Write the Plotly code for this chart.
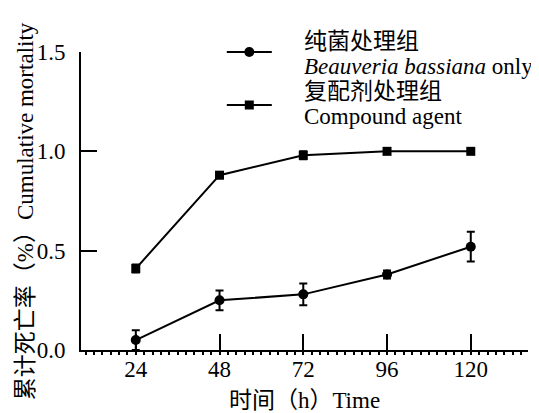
import plotly.graph_objects as go

hours = [24, 48, 72, 96, 120]
bb_only = [0.05, 0.25, 0.28, 0.38, 0.52]
bb_err = [0.05, 0.05, 0.055, 0.02, 0.075]
compound = [0.41, 0.88, 0.98, 1.00, 1.00]
compound_err = [0.02, 0.015, 0.02, 0.0, 0.0]

legend_lines = ["纯菌处理组", "<i>Beauveria bassiana</i> only", "复配剂处理组", "Compound agent"]

FONT = "Liberation Serif, Times New Roman, Noto Sans CJK SC, serif"
CJK = lambda s: '<span style="font-size:23px">' + s + '</span>'

fig = go.Figure()
fig.add_trace(go.Scatter(
    x=hours, y=bb_only, mode="lines+markers", name=" ", legend="legend",
    line=dict(color="black", width=2),
    marker=dict(symbol="circle", size=10, color="black"),
    error_y=dict(type="data", array=bb_err, color="black", thickness=2, width=4),
))
fig.add_trace(go.Scatter(
    x=hours, y=compound, mode="lines+markers", name=" ", legend="legend2",
    line=dict(color="black", width=2),
    marker=dict(symbol="square", size=9, color="black"),
    error_y=dict(type="data", array=compound_err, color="black", thickness=2, width=4),
))

leg_common = dict(xanchor="left", yanchor="middle", bgcolor="rgba(0,0,0,0)",
                  borderwidth=0, itemwidth=45, font=dict(family=FONT, size=10))

text_y = [1.0336, 0.9497, 0.8658, 0.7819]
annotations = []
for i, t in enumerate(legend_lines):
    annotations.append(dict(
        text=CJK(t) if i % 2 == 0 else t, xref="paper", yref="paper",
        x=0.494, y=text_y[i], xanchor="left", yanchor="middle", showarrow=False,
        font=dict(family=FONT, size=23),
    ))
annotations.append(dict(
    text=CJK("累计死亡率（%）") + "Cumulative mortality", textangle=-90,
    xref="paper", yref="paper", x=-0.125, y=0.466,
    xanchor="center", yanchor="middle", showarrow=False,
    font=dict(family=FONT, size=23),
))

# the page body adds an 8px offset, so the figure is 8px smaller than the window
fig.update_layout(
    width=531, height=405,
    margin=dict(l=73, r=11, t=44, b=63, autoexpand=False),
    paper_bgcolor="white", plot_bgcolor="white",
    font=dict(family=FONT, size=23, color="black"),
    showlegend=True,
    legend=dict(x=0.315, y=1.0, **leg_common),
    legend2=dict(x=0.315, y=0.822, **leg_common),
    xaxis=dict(
        range=[8.3, 136.4], tickvals=hours, ticktext=[str(h) for h in hours],
        showgrid=False, zeroline=False, showline=True, linecolor="black", linewidth=2,
        ticks="inside", ticklen=16, tickwidth=2, tickcolor="black",
        ticklabelstandoff=-3,
        minor=dict(ticks="outside", ticklen=3, tickwidth=2, tickcolor="black",
                   tick0=0, dtick=2.4, showgrid=False),
        title=dict(text=CJK("时间（h）") + "Time", font=dict(size=23), standoff=16),
    ),
    yaxis=dict(
        range=[0, 1.5], tickvals=[0, 0.5, 1.0, 1.5], tickformat=".1f",
        showgrid=False, zeroline=False, showline=True, linecolor="black", linewidth=2,
        ticks="inside", ticklen=16, tickwidth=2, tickcolor="black",
        ticklabelstandoff=9,
    ),
    annotations=annotations,
)

fig.write_html("out.html")
